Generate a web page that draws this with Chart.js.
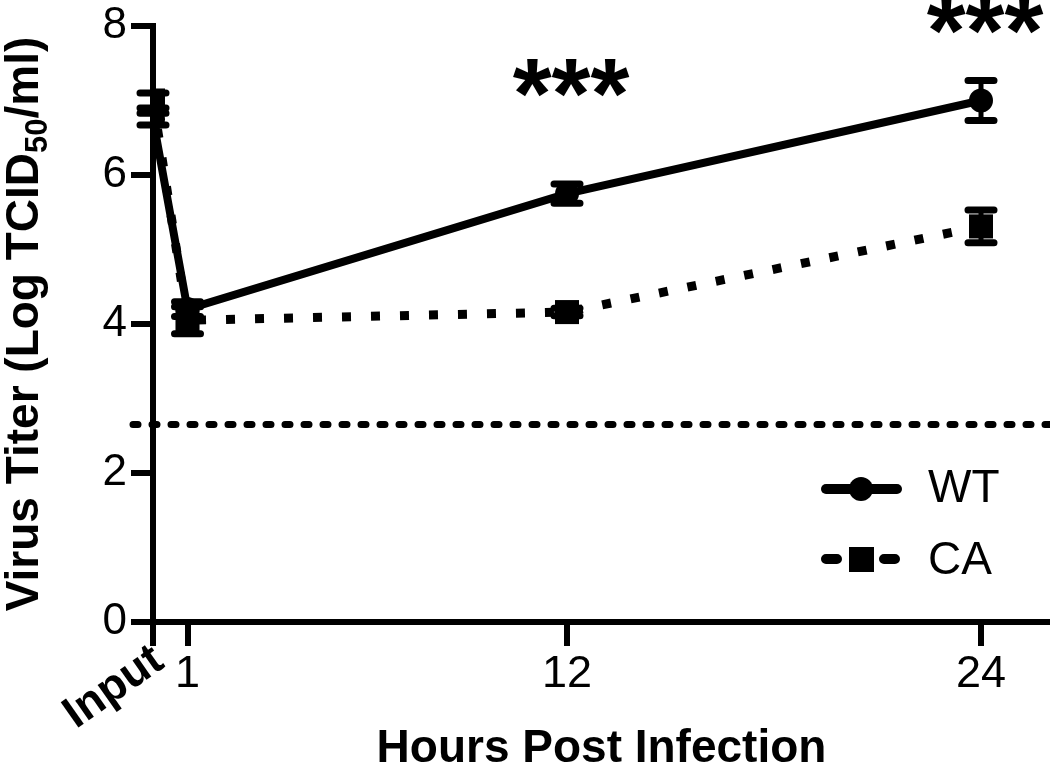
<!DOCTYPE html>
<html>
<head>
<meta charset="utf-8">
<script src="https://cdn.jsdelivr.net/npm/chart.js@4/dist/chart.umd.min.js"></script>
<style>
  html, body { margin: 0; padding: 0; background: #fff; }
  #wrap { width: 1050px; height: 768px; position: relative; }
</style>
</head>
<body>
<div id="wrap"><canvas id="titerChart"></canvas></div>
<script>
// Datos
const hours = [0, 1, 12, 24];
const hourTicks = [0, 1, 12, 24];
const hourLabels = ['Input', '1', '12', '24'];
const titerTicks = [0, 2, 4, 6, 8];

const wtTiter = [6.75, 4.2, 5.75, 7.0];
const wtErr = [0.08, 0.1, 0.13, 0.27];
const caTiter = [7.0, 4.05, 4.16, 5.31];
const caErr = [0.1, 0.18, 0.05, 0.22];

const detectionLimit = 2.65;

const sigHours = [12, 24];
const sigText = ['***', '***'];
const sigLevel = [7.3, 8.15];

const FONT = "'Liberation Sans', Arial, Helvetica, sans-serif";

function toPoints(ys) {
    return hours.map((h, i) => ({ x: h, y: ys[i] }));
}

// Barras de error, límite de detección, textos extra y leyenda
const extrasPlugin = {
    id: 'extras',
    beforeDatasetsDraw(chart) {
        const ctx = chart.ctx;
        const xs = chart.scales.x;
        const ys = chart.scales.y;
        const area = chart.chartArea;

        // línea de límite de detección
        ctx.save();
        const yl = ys.getPixelForValue(detectionLimit);
        ctx.strokeStyle = '#000';
        ctx.lineWidth = 7;
        ctx.lineCap = 'round';
        ctx.setLineDash([5, 14]);
        ctx.beginPath();
        ctx.moveTo(area.left - 20, yl);
        ctx.lineTo(area.right + 4, yl);
        ctx.stroke();
        ctx.restore();

        // barras de error
        const series = [[wtTiter, wtErr], [caTiter, caErr]];
        ctx.save();
        ctx.strokeStyle = '#000';
        ctx.lineCap = 'round';
        series.forEach(([vals, errs]) => {
            vals.forEach((v, i) => {
                const px = xs.getPixelForValue(hours[i]);
                const top = ys.getPixelForValue(v + errs[i]);
                const bot = ys.getPixelForValue(v - errs[i]);
                ctx.lineWidth = 5;
                ctx.beginPath();
                ctx.moveTo(px, top);
                ctx.lineTo(px, bot);
                ctx.stroke();
                ctx.lineWidth = 7;
                ctx.beginPath();
                ctx.moveTo(px - 13, top);
                ctx.lineTo(px + 13, top);
                ctx.moveTo(px - 13, bot);
                ctx.lineTo(px + 13, bot);
                ctx.stroke();
            });
        });
        ctx.restore();
    },
    afterDraw(chart) {
        const ctx = chart.ctx;
        const xs = chart.scales.x;
        const ys = chart.scales.y;
        const area = chart.chartArea;
        ctx.save();
        ctx.fillStyle = '#000';

        // asteriscos de significancia
        ctx.font = 'bold 100px ' + FONT;
        ctx.textAlign = 'center';
        ctx.textBaseline = 'alphabetic';
        sigHours.forEach((h, i) => {
            const m = ctx.measureText(sigText[i]);
            const cy = ys.getPixelForValue(sigLevel[i]);
            const mid = (m.actualBoundingBoxAscent - m.actualBoundingBoxDescent) / 2;
            ctx.fillText(sigText[i], xs.getPixelForValue(h) + 4, cy + mid);
        });

        // etiqueta "Input" girada
        const ix = xs.getPixelForValue(hours[0]);
        ctx.save();
        ctx.translate(ix + 6, area.bottom + 34);
        ctx.rotate(-35 * Math.PI / 180);
        ctx.font = 'bold 45px ' + FONT;
        ctx.textAlign = 'right';
        ctx.textBaseline = 'middle';
        ctx.fillText(hourLabels[0], 0, 0);
        ctx.restore();

        // título eje X
        ctx.font = 'bold 46px ' + FONT;
        ctx.textAlign = 'center';
        ctx.textBaseline = 'alphabetic';
        ctx.fillText('Hours Post Infection', (area.left + area.right) / 2, 762);

        // título eje Y con subíndice
        const parts = [
            { t: 'Virus Titer (Log TCID', f: 'bold 46px ' + FONT, dy: 0 },
            { t: '50', f: 'bold 31px ' + FONT, dy: 9 },
            { t: '/ml)', f: 'bold 46px ' + FONT, dy: 0 }
        ];
        let total = 0;
        parts.forEach(p => { ctx.font = p.f; p.w = ctx.measureText(p.t).width; total += p.w; });
        ctx.save();
        ctx.translate(38, (area.top + area.bottom) / 2);
        ctx.rotate(-Math.PI / 2);
        ctx.textAlign = 'left';
        let cx = -total / 2;
        parts.forEach(p => {
            ctx.font = p.f;
            ctx.fillText(p.t, cx, p.dy);
            cx += p.w;
        });
        ctx.restore();

        // leyenda
        ctx.strokeStyle = '#000';
        ctx.lineCap = 'round';
        ctx.lineWidth = 10;
        ctx.beginPath();
        ctx.moveTo(826, 489);
        ctx.lineTo(897, 489);
        ctx.stroke();
        ctx.beginPath();
        ctx.arc(861, 489, 12, 0, Math.PI * 2);
        ctx.fill();

        ctx.beginPath();
        ctx.moveTo(826, 559);
        ctx.lineTo(837, 559);
        ctx.moveTo(884, 559);
        ctx.lineTo(895, 559);
        ctx.stroke();
        ctx.fillRect(849, 547, 25, 25);

        ctx.font = '46px ' + FONT;
        ctx.textAlign = 'left';
        ctx.textBaseline = 'middle';
        ctx.fillText(chart.data.datasets[1].label, 928, 489);
        ctx.fillText(chart.data.datasets[0].label, 928, 561);
        ctx.restore();
    }
};

const ctx = document.getElementById('titerChart').getContext('2d');
new Chart(ctx, {
    type: 'line',
    data: {
        datasets: [
            {
                label: 'CA',
                data: toPoints(caTiter),
                borderColor: '#000',
                backgroundColor: '#000',
                borderWidth: 9,
                borderDash: [9, 20],
                borderCapStyle: 'butt',
                pointStyle: 'rect',
                pointRadius: 17,
                pointBorderWidth: 0,
                order: 0
            },
            {
                label: 'WT',
                data: toPoints(wtTiter),
                borderColor: '#000',
                backgroundColor: '#000',
                borderWidth: 8,
                pointStyle: 'circle',
                pointRadius: 12,
                pointBorderWidth: 0,
                order: 1
            }
        ]
    },
    options: {
        responsive: true,
        maintainAspectRatio: false,
        devicePixelRatio: 1,
        animation: false,
        layout: {
            autoPadding: false,
            padding: { top: 25, right: 0, bottom: 0, left: 0 }
        },
        plugins: {
            legend: { display: false },
            tooltip: { enabled: false },
            title: { display: false }
        },
        scales: {
            x: {
                type: 'linear',
                min: 0,
                max: 26,
                afterBuildTicks: (axis) => { axis.ticks = hourTicks.map(v => ({ value: v })); },
                afterFit: (axis) => { axis.height = 146; },
                grid: {
                    display: true,
                    drawOnChartArea: false,
                    drawTicks: true,
                    tickLength: 24,
                    tickWidth: 6,
                    tickColor: '#000',
                    lineWidth: 6,
                    color: '#000'
                },
                border: { display: true, color: '#000', width: 6 },
                ticks: {
                    color: '#000',
                    padding: 2,
                    maxRotation: 0,
                    autoSkip: false,
                    font: { family: FONT, size: 45 },
                    callback: function(value) {
                        const i = hourTicks.indexOf(value);
                        return i <= 0 ? '' : hourLabels[i];
                    }
                }
            },
            y: {
                type: 'linear',
                min: 0,
                max: 8,
                afterBuildTicks: (axis) => { axis.ticks = titerTicks.map(v => ({ value: v })); },
                afterFit: (axis) => { axis.width = 153; },
                grid: {
                    display: true,
                    drawOnChartArea: false,
                    drawTicks: true,
                    tickLength: 22,
                    tickWidth: 6,
                    tickColor: '#000',
                    lineWidth: 6,
                    color: '#000'
                },
                border: { display: true, color: '#000', width: 6 },
                ticks: {
                    color: '#000',
                    padding: 4,
                    font: { family: FONT, size: 44, lineHeight: 1 }
                }
            }
        }
    },
    plugins: [extrasPlugin]
});
</script>
</body>
</html>
